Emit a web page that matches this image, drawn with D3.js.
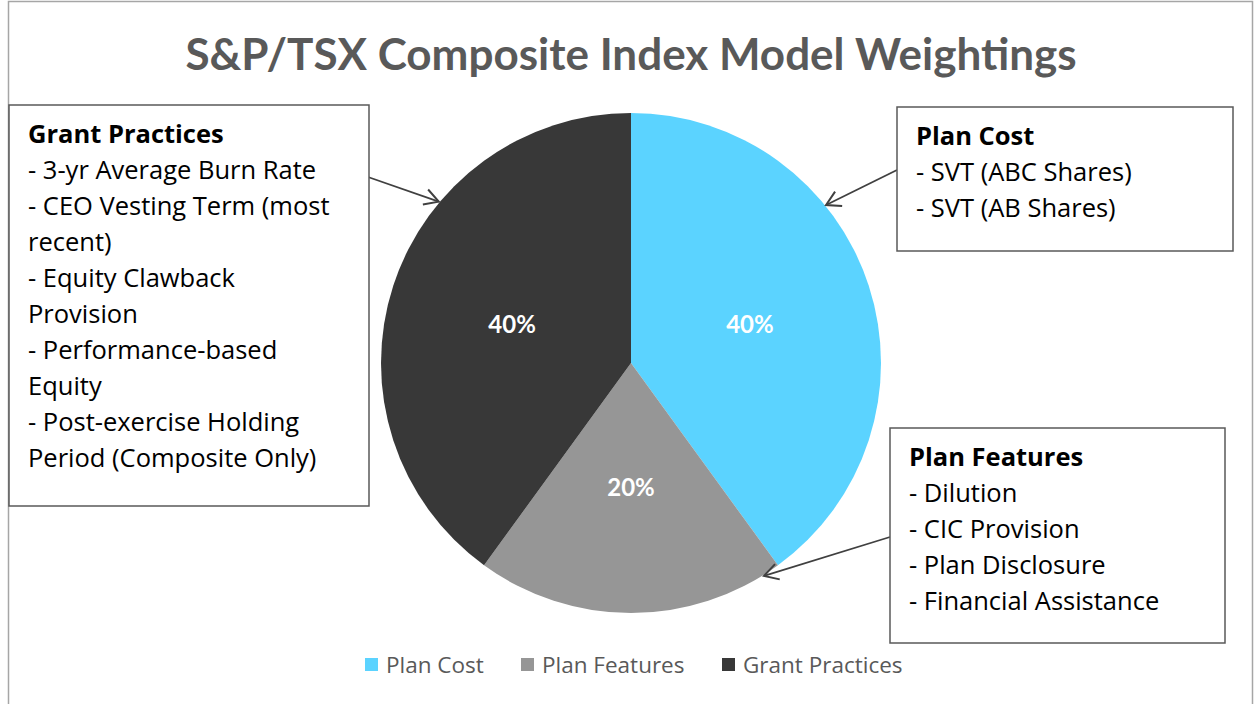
<!DOCTYPE html>
<html>
<body style="margin:0;background:#fff">
<style>
body {
  font-family: "Open Sans", Lato, sans-serif;
}
</style>
<div class="container"></div>
<script src="https://d3js.org/d3.v7.min.js"></script>
<script>

var title = "S&P/TSX Composite Index Model Weightings";
var categories = ["Plan Cost", "Plan Features", "Grant Practices"];
var weights = [40, 20, 40];
var colors = ["#5BD3FF", "#969696", "#383838"];

var costItems = ["- SVT (ABC Shares)", "- SVT (AB Shares)"];
var featureItems = ["- Dilution", "- CIC Provision", "- Plan Disclosure", "- Financial Assistance"];
var grantItems = ["- 3-yr Average Burn Rate", "- CEO Vesting Term (most", "recent)",
                  "- Equity Clawback", "Provision", "- Performance-based", "Equity",
                  "- Post-exercise Holding", "Period (Composite Only)"];

var width = 1255,
    height = 704,
    cx = 631,
    cy = 363,
    radius = 250;

var svg = d3.select(".container")
    .append("svg")
    .attr("width", width)
    .attr("height", height);

// outer chart border
svg.append("rect")
    .attr("x", 8.5).attr("y", 1.5)
    .attr("width", 1244).attr("height", 710)
    .attr("fill", "none")
    .attr("stroke", "#a6a6a6")
    .attr("stroke-width", 1.5);

svg.append("text")
    .attr("x", 631).attr("y", 70)
    .attr("text-anchor", "middle")
    .attr("font-family", "Lato")
    .attr("font-weight", "bold")
    .attr("font-size", 44)
    .attr("fill", "#595959")
    .text(title);

var color = d3.scaleOrdinal().domain(categories).range(colors);

var pie = d3.pie().sort(null).value(function(d, i) { return weights[i]; });
var arc = d3.arc().innerRadius(0).outerRadius(radius);

var g = svg.append("g").attr("transform", "translate(" + cx + "," + cy + ")");

var arcs = pie(categories);

g.selectAll(".slice")
    .data(arcs)
    .enter().append("path")
    .attr("class", "slice")
    .attr("d", arc)
    .attr("fill", function(d) { return color(d.data); });

g.selectAll(".pct")
    .data(arcs)
    .enter().append("text")
    .attr("class", "pct")
    .attr("transform", function(d) { return "translate(" + arc.centroid(d) + ")"; })
    .attr("dy", "0.35em")
    .attr("text-anchor", "middle")
    .attr("font-family", "Lato")
    .attr("font-weight", "bold")
    .attr("font-size", 24)
    .attr("fill", "#fff")
    .text(function(d) { return weights[d.index] + "%"; });

// arrows
var defs = svg.append("defs");
defs.append("marker")
    .attr("id", "arrow")
    .attr("viewBox", "0 0 20 20")
    .attr("refX", 18).attr("refY", 10)
    .attr("markerWidth", 20).attr("markerHeight", 20)
    .attr("markerUnits", "userSpaceOnUse")
    .attr("orient", "auto")
    .append("path")
    .attr("d", "M4,2 L18,10 L4,18")
    .attr("fill", "none")
    .attr("stroke", "#404040")
    .attr("stroke-width", 2);

// callout boxes: x, y, w, h, items, pointing angle (deg, clockwise from top)
var boxes = [
  { x: 9, y: 105, w: 360, h: 401, title: categories[2], items: grantItems, from: [368, 177], ang: 310 },
  { x: 897, y: 107, w: 336, h: 144, title: categories[0], items: costItems, from: [897, 170], ang: 51 },
  { x: 890, y: 428, w: 335, h: 215, title: categories[1], items: featureItems, from: [890, 537], ang: 148 }
];

boxes.forEach(function(b) {
  var a = b.ang * Math.PI / 180;
  var tip = [cx + (radius + 1) * Math.sin(a), cy - (radius + 1) * Math.cos(a)];
  svg.append("line")
      .attr("x1", b.from[0]).attr("y1", b.from[1])
      .attr("x2", tip[0]).attr("y2", tip[1])
      .attr("stroke", "#404040")
      .attr("stroke-width", 1.8)
      .attr("marker-end", "url(#arrow)");

  svg.append("rect")
      .attr("x", b.x).attr("y", b.y)
      .attr("width", b.w).attr("height", b.h)
      .attr("fill", "#fff")
      .attr("stroke", "#595959")
      .attr("stroke-width", 1.5);

  var t = svg.append("text")
      .attr("x", b.x + 19)
      .attr("y", b.y + 38)
      .attr("font-size", 25.5)
      .attr("fill", "#000");
  t.append("tspan")
      .attr("x", b.x + 19)
      .attr("font-weight", "bold")
      .text(b.title);
  b.items.forEach(function(s) {
    t.append("tspan")
        .attr("x", b.x + 19)
        .attr("dy", 36)
        .text(s);
  });
});

// legend
var legendX = [365, 521, 722];
var legend = svg.selectAll(".legend")
    .data(categories)
    .enter().append("g")
    .attr("class", "legend")
    .attr("transform", function(d, i) { return "translate(" + legendX[i] + ",658)"; });

legend.append("rect")
    .attr("width", 13).attr("height", 13)
    .attr("fill", function(d) { return color(d); });

legend.append("text")
    .attr("x", 21).attr("y", 15)
    .attr("font-size", 22.5)
    .attr("fill", "#595959")
    .text(function(d) { return d; });

</script>
</body>
</html>
